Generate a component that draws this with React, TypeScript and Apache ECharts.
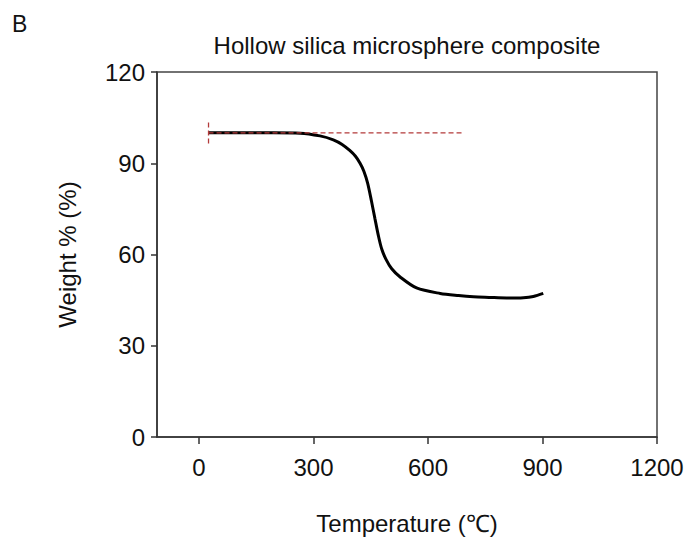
import React, { useEffect, useRef } from "react";
import * as echarts from "echarts";

const titleText = "Hollow silica microsphere composite";
const panelLabel = "B";
const xAxisName = "Temperature (℃)";
const yAxisName = "Weight % (%)";
const xTicks = [0, 300, 600, 900, 1200];

const tempC = [25, 100, 195, 265, 317, 352, 375, 395, 410, 422, 432, 442, 452, 461, 470, 479, 490, 505, 527, 570, 632, 680, 719, 760, 806, 850, 876, 902];
const weightPct = [100, 100, 100, 99.9, 99.0, 97.7, 96.2, 94.2, 92.3, 90.0, 87.4, 83.4, 77.5, 71.8, 66.2, 61.7, 58.4, 55.3, 52.6, 49.0, 47.2, 46.5, 46.1, 45.9, 45.7, 45.8, 46.2, 47.2];

const refLineX = [25, 690];
const refLineY = [100, 100];
const refTickX = [25, 25];
const refTickY = [96.5, 103.5];

export default function App() {
  const ref = useRef<HTMLDivElement>(null);
  useEffect(() => {
    if (!ref.current) return;
    const chart = echarts.init(ref.current, null, { renderer: "svg" });
    const font = "'Liberation Sans', Arial, sans-serif";
    const fs = 24;
    chart.setOption({
      animation: false,
      backgroundColor: "#ffffff",
      textStyle: { fontFamily: font, color: "#111" },
      graphic: [
        { type: "text", left: 12, top: 12, style: { text: panelLabel, fontSize: 23, fill: "#111", fontFamily: font } },
      ],
      title: {
        text: titleText,
        left: 402,
        textAlign: "center",
        top: 28,
        textStyle: { fontSize: fs, fontWeight: "normal", color: "#111", fontFamily: font },
      },
      grid: { left: 157, top: 72, right: 34, bottom: 105, show: true, borderColor: "#444", borderWidth: 1.5 },
      xAxis: {
        type: "value",
        min: -110,
        max: 1200,
        name: xAxisName,
        nameLocation: "middle",
        nameGap: 74,
        nameTextStyle: { fontSize: fs, color: "#111", fontFamily: font },
        axisLine: { onZero: false, lineStyle: { color: "#333", width: 1.5 } },
        axisTick: { show: true, length: 7, customValues: xTicks, lineStyle: { color: "#333", width: 1.5 } },
        axisLabel: {
          customValues: xTicks,
          fontSize: fs,
          color: "#111",
          margin: 18,
          fontFamily: font,
          formatter: (v: number) => String(v),
        },
        splitLine: { show: false },
      },
      yAxis: {
        type: "value",
        min: 0,
        max: 120,
        interval: 30,
        name: yAxisName,
        nameLocation: "middle",
        nameGap: 78,
        nameTextStyle: { fontSize: fs, color: "#111", fontFamily: font },
        axisLine: { show: true, onZero: false, lineStyle: { color: "#333", width: 1.5 } },
        axisTick: { show: true, length: 6, lineStyle: { color: "#333", width: 1.5 } },
        axisLabel: { fontSize: fs, color: "#111", margin: 12, fontFamily: font },
        splitLine: { show: false },
      },
      series: [
        {
          type: "line",
          data: refLineX.map((x, i) => [x, refLineY[i]]),
          showSymbol: false,
          lineStyle: { color: "#b33a3a", width: 1.3, type: [5, 3] },
          z: 3,
        },
        {
          type: "line",
          data: refTickX.map((x, i) => [x, refTickY[i]]),
          showSymbol: false,
          lineStyle: { color: "#b33a3a", width: 1.3, type: [5, 3] },
          z: 3,
        },
        {
          type: "line",
          data: tempC.map((x, i) => [x, weightPct[i]]),
          showSymbol: false,
          smooth: 0.3,
          lineStyle: { color: "#000", width: 3 },
          z: 2,
        },
      ],
    });
    return () => chart.dispose();
  }, []);
  return <div ref={ref} style={{ position: "fixed", left: 0, top: 0, width: 691, height: 542 }} />;
}
